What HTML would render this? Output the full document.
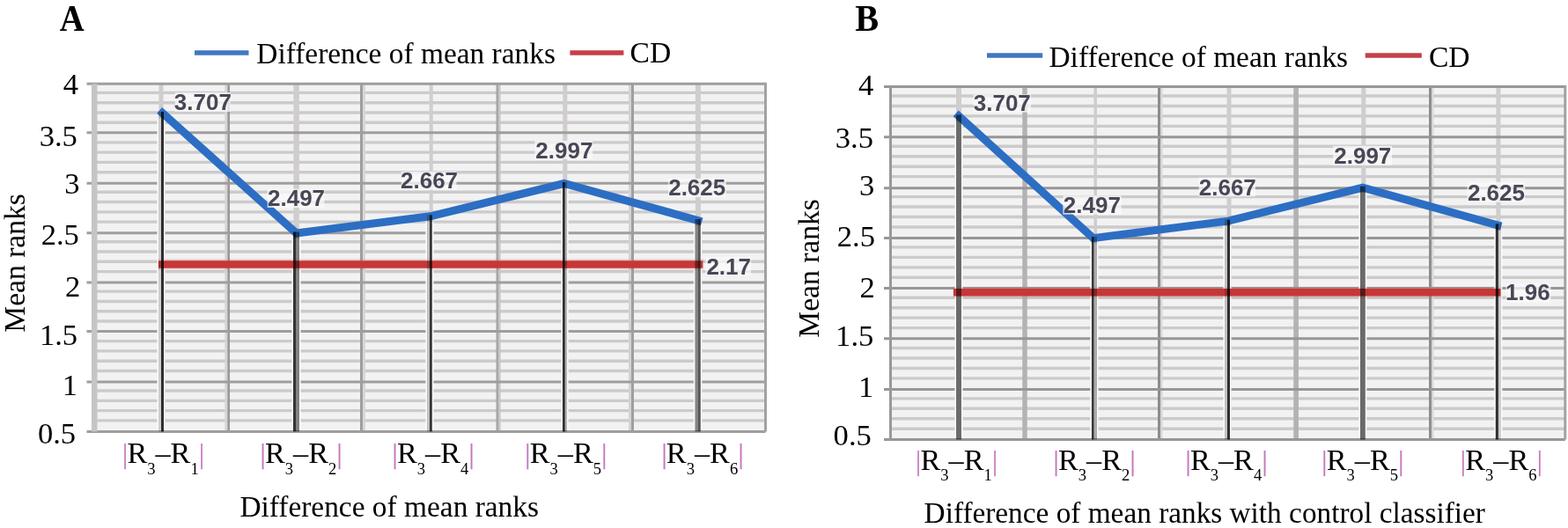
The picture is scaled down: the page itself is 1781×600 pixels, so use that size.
<!DOCTYPE html>
<html><head><meta charset="utf-8"><style>
html,body{margin:0;padding:0;background:#fff;width:1781px;height:600px;overflow:hidden}
svg{display:block;font-family:"Liberation Serif",serif}
</style></head><body>
<svg width="1781" height="600" viewBox="0 0 1781 600">
<g fill="none"><rect x="107.5" y="95.3" width="762" height="395.1" fill="#f2f2f3"/><path d="M107.5 477.91H869.5" stroke="#cccaca" stroke-width="3.4"/><path d="M107.5 466.62H869.5" stroke="#cccaca" stroke-width="3.4"/><path d="M107.5 455.33H869.5" stroke="#cccaca" stroke-width="3.4"/><path d="M107.5 444.05H869.5" stroke="#cccaca" stroke-width="3.4"/><path d="M107.5 421.47H869.5" stroke="#cccaca" stroke-width="3.4"/><path d="M107.5 410.18H869.5" stroke="#cccaca" stroke-width="3.4"/><path d="M107.5 398.89H869.5" stroke="#cccaca" stroke-width="3.4"/><path d="M107.5 387.6H869.5" stroke="#cccaca" stroke-width="3.4"/><path d="M107.5 365.03H869.5" stroke="#cccaca" stroke-width="3.4"/><path d="M107.5 353.74H869.5" stroke="#cccaca" stroke-width="3.4"/><path d="M107.5 342.45H869.5" stroke="#cccaca" stroke-width="3.4"/><path d="M107.5 331.16H869.5" stroke="#cccaca" stroke-width="3.4"/><path d="M107.5 308.58H869.5" stroke="#cccaca" stroke-width="3.4"/><path d="M107.5 297.29H869.5" stroke="#cccaca" stroke-width="3.4"/><path d="M107.5 286.01H869.5" stroke="#cccaca" stroke-width="3.4"/><path d="M107.5 274.72H869.5" stroke="#cccaca" stroke-width="3.4"/><path d="M107.5 252.14H869.5" stroke="#cccaca" stroke-width="3.4"/><path d="M107.5 240.85H869.5" stroke="#cccaca" stroke-width="3.4"/><path d="M107.5 229.56H869.5" stroke="#cccaca" stroke-width="3.4"/><path d="M107.5 218.27H869.5" stroke="#cccaca" stroke-width="3.4"/><path d="M107.5 195.7H869.5" stroke="#cccaca" stroke-width="3.4"/><path d="M107.5 184.41H869.5" stroke="#cccaca" stroke-width="3.4"/><path d="M107.5 173.12H869.5" stroke="#cccaca" stroke-width="3.4"/><path d="M107.5 161.83H869.5" stroke="#cccaca" stroke-width="3.4"/><path d="M107.5 139.25H869.5" stroke="#cccaca" stroke-width="3.4"/><path d="M107.5 127.97H869.5" stroke="#cccaca" stroke-width="3.4"/><path d="M107.5 116.68H869.5" stroke="#cccaca" stroke-width="3.4"/><path d="M107.5 105.39H869.5" stroke="#cccaca" stroke-width="3.4"/><path d="M183 95.3V490.4" stroke="#cfcdcd" stroke-width="5"/><path d="M336.6 95.3V490.4" stroke="#cfcdcd" stroke-width="6.5"/><path d="M489.7 95.3V490.4" stroke="#cfcdcd" stroke-width="4"/><path d="M641.8 95.3V490.4" stroke="#cfcdcd" stroke-width="5"/><path d="M792.9 95.3V490.4" stroke="#cfcdcd" stroke-width="6"/><path d="M256.9 95.3V490.4" stroke="#d6d4d4" stroke-width="3"/><path d="M259.7 95.3V490.4" stroke="#989696" stroke-width="2.6"/><path d="M413.4 95.3V490.4" stroke="#d8d6d6" stroke-width="3"/><path d="M410.5 95.3V490.4" stroke="#a09e9e" stroke-width="3"/><path d="M567.3 95.3V490.4" stroke="#c8c6c6" stroke-width="2.6"/><path d="M564.8 95.3V490.4" stroke="#a8a6a6" stroke-width="2.6"/><path d="M715.6 95.3V490.4" stroke="#d4d2d2" stroke-width="3"/><path d="M718.5 95.3V490.4" stroke="#a09e9e" stroke-width="3"/><path d="M98.5 490.4H869.5" stroke="#a09d9d" stroke-width="3"/><path d="M98.5 434.1H869.5" stroke="#a09d9d" stroke-width="3"/><path d="M98.5 376.6H869.5" stroke="#a09d9d" stroke-width="3"/><path d="M98.5 320.9H869.5" stroke="#a09d9d" stroke-width="3"/><path d="M98.5 264.7H869.5" stroke="#a09d9d" stroke-width="3"/><path d="M98.5 208.3H869.5" stroke="#a09d9d" stroke-width="3"/><path d="M98.5 150.8H869.5" stroke="#a09d9d" stroke-width="3"/><path d="M98.5 95.3H869.5" stroke="#a09d9d" stroke-width="3"/><rect x="104" y="95.3" width="6.5" height="395.1" fill="#c6c4c4"/><path d="M869.5 93.8V490.4" stroke="#a3a1a1" stroke-width="3"/><path d="M183 134.38V488.9" stroke="#f9f9f9" stroke-width="9.2"/><path d="M336.5 270.97V488.9" stroke="#f9f9f9" stroke-width="10.2"/><path d="M487.9 251.78V488.9" stroke="#f9f9f9" stroke-width="9"/><path d="M641.52 214.52V488.9" stroke="#f9f9f9" stroke-width="8.25"/><path d="M792.6 256.52V488.9" stroke="#f9f9f9" stroke-width="9.5"/><path d="M179 300.5H799.3" stroke="#d04848" stroke-opacity="0.13" stroke-width="13"/><path d="M180 300.5H798.3" stroke="#c83636" stroke-width="8.5"/><polyline points="184.5,128.38 336.6,264.97 488.7,245.78 640.8,208.52 792.9,250.52" fill="none" stroke="#2c6ec3" stroke-width="9" stroke-linejoin="miter" stroke-linecap="square"/><g style="mix-blend-mode:multiply"><path d="M181.5 126.88V490.4" stroke="#d6d4d4" stroke-width="3"/><path d="M184.5 126.88V490.4" stroke="#303030" stroke-width="3"/><path d="M338 263.47V490.4" stroke="#858383" stroke-width="4"/><path d="M334.5 263.47V490.4" stroke="#353535" stroke-width="3"/><path d="M486.5 244.28V490.4" stroke="#c8c6c6" stroke-width="3"/><path d="M489.4 244.28V490.4" stroke="#383838" stroke-width="2.8"/><path d="M642.9 207.02V490.4" stroke="#b8b6b6" stroke-width="2.3"/><path d="M640.4 207.02V490.4" stroke="#303030" stroke-width="2.8"/><path d="M791 249.02V490.4" stroke="#8a8888" stroke-width="3.1"/><path d="M794.1 249.02V490.4" stroke="#5a5858" stroke-width="3.3"/></g><rect x="198.7" y="105" width="63" height="22" fill="#fafafa" fill-opacity="0.75"/><rect x="303.7" y="214.8" width="64.8" height="21.2" fill="#fafafa" fill-opacity="0.75"/><rect x="455.7" y="194.8" width="62.8" height="21.2" fill="#fafafa" fill-opacity="0.75"/><rect x="607.4" y="159.8" width="65.8" height="21" fill="#fafafa" fill-opacity="0.75"/><rect x="759" y="202.8" width="65.8" height="21.3" fill="#fafafa" fill-opacity="0.75"/><rect x="801.5" y="292.1" width="51.6" height="21" fill="#fafafa" fill-opacity="0.75"/><path d="M221 60H282.5" stroke="#4078c0" stroke-width="5.5"/><path d="M647.4 60H708.4" stroke="#c6404a" stroke-width="5.5"/></g>
<g fill="none"><rect x="1011.5" y="98.3" width="766.3" height="401.2" fill="#f2f2f3"/><path d="M1011.5 487.24H1777.8" stroke="#cccaca" stroke-width="3.4"/><path d="M1011.5 475.77H1777.8" stroke="#cccaca" stroke-width="3.4"/><path d="M1011.5 464.31H1777.8" stroke="#cccaca" stroke-width="3.4"/><path d="M1011.5 452.85H1777.8" stroke="#cccaca" stroke-width="3.4"/><path d="M1011.5 429.92H1777.8" stroke="#cccaca" stroke-width="3.4"/><path d="M1011.5 418.46H1777.8" stroke="#cccaca" stroke-width="3.4"/><path d="M1011.5 407H1777.8" stroke="#cccaca" stroke-width="3.4"/><path d="M1011.5 395.53H1777.8" stroke="#cccaca" stroke-width="3.4"/><path d="M1011.5 372.61H1777.8" stroke="#cccaca" stroke-width="3.4"/><path d="M1011.5 361.15H1777.8" stroke="#cccaca" stroke-width="3.4"/><path d="M1011.5 349.68H1777.8" stroke="#cccaca" stroke-width="3.4"/><path d="M1011.5 338.22H1777.8" stroke="#cccaca" stroke-width="3.4"/><path d="M1011.5 315.29H1777.8" stroke="#cccaca" stroke-width="3.4"/><path d="M1011.5 303.83H1777.8" stroke="#cccaca" stroke-width="3.4"/><path d="M1011.5 292.37H1777.8" stroke="#cccaca" stroke-width="3.4"/><path d="M1011.5 280.91H1777.8" stroke="#cccaca" stroke-width="3.4"/><path d="M1011.5 257.98H1777.8" stroke="#cccaca" stroke-width="3.4"/><path d="M1011.5 246.52H1777.8" stroke="#cccaca" stroke-width="3.4"/><path d="M1011.5 235.05H1777.8" stroke="#cccaca" stroke-width="3.4"/><path d="M1011.5 223.59H1777.8" stroke="#cccaca" stroke-width="3.4"/><path d="M1011.5 200.67H1777.8" stroke="#cccaca" stroke-width="3.4"/><path d="M1011.5 189.2H1777.8" stroke="#cccaca" stroke-width="3.4"/><path d="M1011.5 177.74H1777.8" stroke="#cccaca" stroke-width="3.4"/><path d="M1011.5 166.28H1777.8" stroke="#cccaca" stroke-width="3.4"/><path d="M1011.5 143.35H1777.8" stroke="#cccaca" stroke-width="3.4"/><path d="M1011.5 131.89H1777.8" stroke="#cccaca" stroke-width="3.4"/><path d="M1011.5 120.43H1777.8" stroke="#cccaca" stroke-width="3.4"/><path d="M1011.5 108.96H1777.8" stroke="#cccaca" stroke-width="3.4"/><path d="M1089 98.3V499.5" stroke="#cfcdcd" stroke-width="6"/><path d="M1244.2 98.3V499.5" stroke="#cfcdcd" stroke-width="3.5"/><path d="M1396 98.3V499.5" stroke="#cfcdcd" stroke-width="5"/><path d="M1548.8 98.3V499.5" stroke="#cfcdcd" stroke-width="5"/><path d="M1701.9 98.3V499.5" stroke="#cfcdcd" stroke-width="5"/><path d="M1164 98.3V499.5" stroke="#b4b2b2" stroke-width="5.5"/><path d="M1319.1 98.3V499.5" stroke="#d8d6d6" stroke-width="2.6"/><path d="M1316.5 98.3V499.5" stroke="#8c8c8c" stroke-width="3"/><path d="M1472.1 98.3V499.5" stroke="#b4b2b2" stroke-width="5.7"/><path d="M1627.1 98.3V499.5" stroke="#d8d6d6" stroke-width="2.6"/><path d="M1624.5 98.3V499.5" stroke="#8e8e8e" stroke-width="3"/><path d="M1004 499.5H1777.8" stroke="#989696" stroke-width="3"/><path d="M1004 442.5H1777.8" stroke="#989696" stroke-width="3"/><path d="M1004 384.8H1777.8" stroke="#989696" stroke-width="3"/><path d="M1004 327.6H1777.8" stroke="#989696" stroke-width="3"/><path d="M1004 270.5H1777.8" stroke="#989696" stroke-width="3"/><path d="M1004 213.8H1777.8" stroke="#989696" stroke-width="3"/><path d="M1004 155.8H1777.8" stroke="#989696" stroke-width="3"/><path d="M1004 98.6H1777.8" stroke="#989696" stroke-width="3"/><path d="M1011.5 98.3V499.5" stroke="#9a9898" stroke-width="3"/><path d="M1777.8 96.8V499.5" stroke="#a3a1a1" stroke-width="3"/><path d="M1089 137.89V498" stroke="#f9f9f9" stroke-width="9.1"/><path d="M1242.97 276.59V498" stroke="#f9f9f9" stroke-width="9.25"/><path d="M1394 257.1V498" stroke="#f9f9f9" stroke-width="9.2"/><path d="M1547.9 219.27V498" stroke="#f9f9f9" stroke-width="9"/><path d="M1701.78 261.91V498" stroke="#f9f9f9" stroke-width="9.15"/><path d="M1082 332.14H1705.4" stroke="#d04848" stroke-opacity="0.13" stroke-width="13"/><path d="M1083 332.14H1704.4" stroke="#c83636" stroke-width="8.5"/><polyline points="1089,131.89 1241.7,270.59 1395,251.1 1547.8,213.27 1700.9,255.91" fill="none" stroke="#2c6ec3" stroke-width="9" stroke-linejoin="miter" stroke-linecap="square"/><g style="mix-blend-mode:multiply"><path d="M1089 130.39V499.5" stroke="#6e6c6c" stroke-width="5.9"/><path d="M1244.25 269.09V499.5" stroke="#b0b0b0" stroke-width="3.5"/><path d="M1241.25 269.09V499.5" stroke="#383838" stroke-width="2.6"/><path d="M1392.5 249.6V499.5" stroke="#c8c6c6" stroke-width="3"/><path d="M1395.5 249.6V499.5" stroke="#303030" stroke-width="3"/><path d="M1547.9 211.77V499.5" stroke="#6e6c6c" stroke-width="5.8"/><path d="M1703.3 254.41V499.5" stroke="#cfcdcd" stroke-width="2.9"/><path d="M1700.35 254.41V499.5" stroke="#303030" stroke-width="3.1"/></g><rect x="1105.7" y="107.3" width="65.3" height="20.4" fill="#fafafa" fill-opacity="0.75"/><rect x="1207.3" y="222.3" width="66.4" height="21.4" fill="#fafafa" fill-opacity="0.75"/><rect x="1361.7" y="201.7" width="64.3" height="21.6" fill="#fafafa" fill-opacity="0.75"/><rect x="1514.3" y="165.8" width="66.7" height="22" fill="#fafafa" fill-opacity="0.75"/><rect x="1666.6" y="206.8" width="65.7" height="23" fill="#fafafa" fill-opacity="0.75"/><rect x="1710.4" y="322.3" width="51" height="21.3" fill="#fafafa" fill-opacity="0.75"/><path d="M1121 63.1H1184.2" stroke="#4078c0" stroke-width="5.5"/><path d="M1550.7 63H1614.8" stroke="#c6404a" stroke-width="5.5"/></g>
<g fill="#000"><text id="A" x="67.7" y="34.7" font-size="42" font-weight="bold" textLength="28" lengthAdjust="spacingAndGlyphs">A</text>
<text id="B" x="971.3" y="35.3" font-size="42" font-weight="bold" textLength="26.9" lengthAdjust="spacingAndGlyphs">B</text>
<text id="legA" x="291.3" y="71.5" font-size="33.4">Difference of mean ranks</text>
<text id="cdA" x="715.5" y="71" font-size="33.6">CD</text>
<text id="legB" x="1191.5" y="76.2" font-size="33.4">Difference of mean ranks</text>
<text id="cdB" x="1622.9" y="75.9" font-size="33.6">CD</text>
<text id="ytA" transform="translate(28.4,298.9) rotate(-90)" text-anchor="middle" font-size="33.6">Mean ranks</text>
<text id="ytB" transform="translate(930.4,304.9) rotate(-90)" text-anchor="middle" font-size="33.6">Mean ranks</text>
<text id="xtA" x="272.4" y="586.7" font-size="33.4">Difference of mean ranks</text>
<text id="xtB" x="1049.6" y="594" font-size="33.3">Difference of mean ranks with control classifier</text>
<text id="ylA4" x="71.75" y="106.51" font-size="34.6">4</text>
<text id="ylA3.5" x="44.7" y="166.1" font-size="34.6">3.5</text>
<text id="ylA3" x="73.2" y="220.1" font-size="34.6">3</text>
<text id="ylA2.5" x="46.7" y="277.6" font-size="34.6">2.5</text>
<text id="ylA2" x="74.1" y="336.7" font-size="34.6">2</text>
<text id="ylA1.5" x="44.9" y="391.7" font-size="34.6">1.5</text>
<text id="ylA1" x="70.7" y="448.6" font-size="34.6">1</text>
<text id="ylA0.5" x="42.9" y="504.24" font-size="34.6">0.5</text>
<text id="ylB4" x="974.9" y="108.2" font-size="34.6">4</text>
<text id="ylB3.5" x="948.8" y="168.2" font-size="34.6">3.5</text>
<text id="ylB3" x="975.9" y="222.3" font-size="34.6">3</text>
<text id="ylB2.5" x="950.8" y="279.7" font-size="34.6">2.5</text>
<text id="ylB2" x="976.5" y="338.2" font-size="34.6">2</text>
<text id="ylB1.5" x="949.1" y="393.4" font-size="34.6">1.5</text>
<text id="ylB1" x="975.1" y="450.9" font-size="34.6">1</text>
<text id="ylB0.5" x="946.6" y="506.2" font-size="34.6">0.5</text>
<text id="dlA0" x="197.8" y="125" font-size="26" font-weight="bold" font-family='"Liberation Sans", sans-serif' fill="#4a4656">3.707</text>
<text id="dlA1" x="304" y="234.2" font-size="26" font-weight="bold" font-family='"Liberation Sans", sans-serif' fill="#4a4656">2.497</text>
<text id="dlA2" x="455" y="214.2" font-size="26" font-weight="bold" font-family='"Liberation Sans", sans-serif' fill="#4a4656">2.667</text>
<text id="dlA3" x="608.3" y="179.7" font-size="26" font-weight="bold" font-family='"Liberation Sans", sans-serif' fill="#4a4656">2.997</text>
<text id="dlA4" x="759.2" y="222.45" font-size="26" font-weight="bold" font-family='"Liberation Sans", sans-serif' fill="#4a4656">2.625</text>
<text id="dlA5" x="802.4" y="311.9" font-size="26" font-weight="bold" font-family='"Liberation Sans", sans-serif' fill="#4a4656">2.17</text>
<text id="dlB0" x="1105.75" y="126.2" font-size="26" font-weight="bold" font-family='"Liberation Sans", sans-serif' fill="#4a4656">3.707</text>
<text id="dlB1" x="1207.8" y="241.7" font-size="26" font-weight="bold" font-family='"Liberation Sans", sans-serif' fill="#4a4656">2.497</text>
<text id="dlB2" x="1361.75" y="221.8" font-size="26" font-weight="bold" font-family='"Liberation Sans", sans-serif' fill="#4a4656">2.667</text>
<text id="dlB3" x="1515.25" y="186.2" font-size="26" font-weight="bold" font-family='"Liberation Sans", sans-serif' fill="#4a4656">2.997</text>
<text id="dlB4" x="1666.95" y="227.7" font-size="26" font-weight="bold" font-family='"Liberation Sans", sans-serif' fill="#4a4656">2.625</text>
<text id="dlB5" x="1710.1" y="341.45" font-size="26" font-weight="bold" font-family='"Liberation Sans", sans-serif' fill="#4a4656">1.96</text>
<text id="xlA0" x="139" y="526.4" font-size="34.2"><tspan fill="#c677bd" font-size="30.5" stroke="#c677bd" stroke-width="0.25">|</tspan><tspan dx="-0.7">R</tspan><tspan font-size="18.6" dy="12.3">3</tspan><tspan dy="-12.3">–R</tspan><tspan font-size="18.6" dy="12.3">1</tspan><tspan dy="-12.3" dx="0.3" fill="#c677bd" font-size="30.5" stroke="#c677bd" stroke-width="0.25">|</tspan></text>
<text id="xlA1" x="295.55" y="526.4" font-size="34.2"><tspan fill="#c677bd" font-size="30.5" stroke="#c677bd" stroke-width="0.25">|</tspan><tspan dx="-0.7">R</tspan><tspan font-size="18.6" dy="12.3">3</tspan><tspan dy="-12.3">–R</tspan><tspan font-size="18.6" dy="12.3">2</tspan><tspan dy="-12.3" dx="0.3" fill="#c677bd" font-size="30.5" stroke="#c677bd" stroke-width="0.25">|</tspan></text>
<text id="xlA2" x="445.6" y="526.4" font-size="34.2"><tspan fill="#c677bd" font-size="30.5" stroke="#c677bd" stroke-width="0.25">|</tspan><tspan dx="-0.7">R</tspan><tspan font-size="18.6" dy="12.3">3</tspan><tspan dy="-12.3">–R</tspan><tspan font-size="18.6" dy="12.3">4</tspan><tspan dy="-12.3" dx="0.3" fill="#c677bd" font-size="30.5" stroke="#c677bd" stroke-width="0.25">|</tspan></text>
<text id="xlA3" x="596.3" y="526.4" font-size="34.2"><tspan fill="#c677bd" font-size="30.5" stroke="#c677bd" stroke-width="0.25">|</tspan><tspan dx="-0.7">R</tspan><tspan font-size="18.6" dy="12.3">3</tspan><tspan dy="-12.3">–R</tspan><tspan font-size="18.6" dy="12.3">5</tspan><tspan dy="-12.3" dx="0.3" fill="#c677bd" font-size="30.5" stroke="#c677bd" stroke-width="0.25">|</tspan></text>
<text id="xlA4" x="751.45" y="526.4" font-size="34.2"><tspan fill="#c677bd" font-size="30.5" stroke="#c677bd" stroke-width="0.25">|</tspan><tspan dx="-0.7">R</tspan><tspan font-size="18.6" dy="12.3">3</tspan><tspan dy="-12.3">–R</tspan><tspan font-size="18.6" dy="12.3">6</tspan><tspan dy="-12.3" dx="0.3" fill="#c677bd" font-size="30.5" stroke="#c677bd" stroke-width="0.25">|</tspan></text>
<text id="xlB0" x="1040.1" y="533.75" font-size="34.2"><tspan fill="#c677bd" font-size="30.5" stroke="#c677bd" stroke-width="0.25">|</tspan><tspan dx="-0.7">R</tspan><tspan font-size="18.6" dy="12.3">3</tspan><tspan dy="-12.3">–R</tspan><tspan font-size="18.6" dy="12.3">1</tspan><tspan dy="-12.3" dx="0.3" fill="#c677bd" font-size="30.5" stroke="#c677bd" stroke-width="0.25">|</tspan></text>
<text id="xlB1" x="1196.55" y="533.75" font-size="34.2"><tspan fill="#c677bd" font-size="30.5" stroke="#c677bd" stroke-width="0.25">|</tspan><tspan dx="-0.7">R</tspan><tspan font-size="18.6" dy="12.3">3</tspan><tspan dy="-12.3">–R</tspan><tspan font-size="18.6" dy="12.3">2</tspan><tspan dy="-12.3" dx="0.3" fill="#c677bd" font-size="30.5" stroke="#c677bd" stroke-width="0.25">|</tspan></text>
<text id="xlB2" x="1346.5" y="533.75" font-size="34.2"><tspan fill="#c677bd" font-size="30.5" stroke="#c677bd" stroke-width="0.25">|</tspan><tspan dx="-0.7">R</tspan><tspan font-size="18.6" dy="12.3">3</tspan><tspan dy="-12.3">–R</tspan><tspan font-size="18.6" dy="12.3">4</tspan><tspan dy="-12.3" dx="0.3" fill="#c677bd" font-size="30.5" stroke="#c677bd" stroke-width="0.25">|</tspan></text>
<text id="xlB3" x="1501.35" y="533.75" font-size="34.2"><tspan fill="#c677bd" font-size="30.5" stroke="#c677bd" stroke-width="0.25">|</tspan><tspan dx="-0.7">R</tspan><tspan font-size="18.6" dy="12.3">3</tspan><tspan dy="-12.3">–R</tspan><tspan font-size="18.6" dy="12.3">5</tspan><tspan dy="-12.3" dx="0.3" fill="#c677bd" font-size="30.5" stroke="#c677bd" stroke-width="0.25">|</tspan></text>
<text id="xlB4" x="1658.85" y="534.15" font-size="34.2"><tspan fill="#c677bd" font-size="30.5" stroke="#c677bd" stroke-width="0.25">|</tspan><tspan dx="-0.7">R</tspan><tspan font-size="18.6" dy="12.3">3</tspan><tspan dy="-12.3">–R</tspan><tspan font-size="18.6" dy="12.3">6</tspan><tspan dy="-12.3" dx="0.3" fill="#c677bd" font-size="30.5" stroke="#c677bd" stroke-width="0.25">|</tspan></text></g>
</svg>
</body></html>
